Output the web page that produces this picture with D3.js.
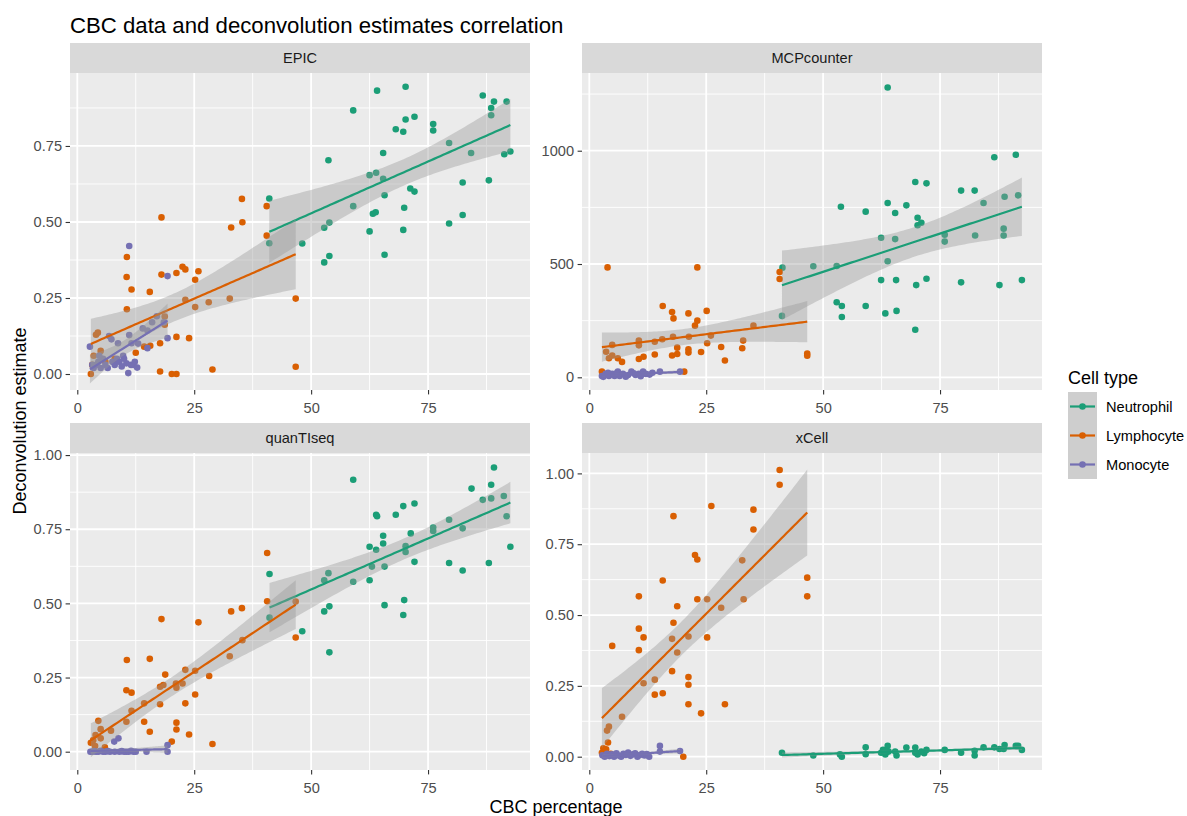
<!DOCTYPE html>
<html><head><meta charset="utf-8">
<script src="https://cdn.jsdelivr.net/npm/d3@7"></script>
<style>
html,body{margin:0;padding:0;background:#fff;}
text{font-family:"Liberation Sans",Arial,sans-serif;}
</style></head>
<body><svg id="chart" width="1187" height="816"></svg>
<script>
// ---------------- DATA ----------------
const methods = ["EPIC", "MCPcounter", "quanTIseq", "xCell"];
const cellTypes = ["Neutrophil", "Lymphocyte", "Monocyte"];
const xTicks = [0, 25, 50, 75];
const epicTicks = [0, 0.25, 0.5, 0.75];
const mcpTicks = [0, 500, 1000];
const quanTicks = [0, 0.25, 0.5, 0.75, 1];
const xcellTicks = [0, 0.25, 0.5, 0.75, 1];

const epicNeutrophil = [[41.05,0.577],[41.05,0.430],[48.1,0.429],[52.8,0.481],[53.9,0.498],[52.8,0.367],[53.9,0.388],[53.7,0.703],[59.0,0.867],[59.0,0.552],[62.5,0.654],[63.9,0.662],[62.5,0.469],[63.2,0.527],[63.8,0.532],[64.1,0.932],[65.4,0.727],[65.4,0.642],[65.7,0.588],[65.7,0.392],[68.1,0.805],[69.7,0.797],[69.7,0.474],[69.9,0.547],[70.2,0.945],[70.2,0.837],[71.2,0.610],[72.1,0.600],[72.1,0.846],[76.1,0.822],[76.1,0.801],[79.5,0.760],[79.5,0.495],[82.4,0.630],[82.4,0.523],[84.2,0.727],[86.7,0.916],[88.0,0.637],[88.5,0.875],[88.5,0.851],[89.1,0.896],[91.3,0.723],[91.8,0.896],[92.6,0.732]];
const epicLymphocyte = [[2.9,0.0],[3.2,0.03],[4.0,0.129],[4.4,0.136],[5.0,0.076],[3.5,0.06],[10.6,0.385],[10.55,0.319],[11.6,0.278],[10.6,0.213],[15.5,0.270],[18.0,0.515],[18.0,0.327],[21.2,0.332],[22.5,0.353],[23.1,0.344],[25.9,0.338],[25.2,0.310],[23.1,0.244],[25.2,0.220],[28.1,0.236],[32.6,0.248],[32.9,0.482],[35.2,0.576],[35.3,0.499],[40.5,0.552],[40.5,0.455],[46.7,0.248],[46.7,0.024],[18.7,0.189],[18.7,0.162],[21.2,0.122],[23.9,0.118],[17.7,0.101],[15.6,0.093],[14.3,0.09],[17.7,0.008],[20.2,0.0],[21.2,0.0],[28.9,0.015],[6.0,0.04],[8.0,0.05],[12.5,0.07]];
const epicMonocyte = [[2.7,0.09],[3.5,0.02],[4.0,0.03],[4.5,0.04],[5.0,0.02],[5.5,0.05],[6.0,0.03],[6.5,0.02],[6.8,0.125],[7.3,0.114],[7.5,0.04],[8.0,0.03],[8.5,0.05],[8.7,0.101],[9.0,0.04],[9.5,0.025],[10.0,0.05],[10.5,0.035],[10.9,0.003],[11.1,0.128],[11.1,0.421],[11.5,0.03],[11.6,0.101],[12.0,0.03],[12.3,0.04],[12.8,0.021],[13.0,0.10],[14.0,0.15],[15.0,0.143],[15.0,0.085],[16.0,0.17],[17.0,0.19],[18.5,0.17],[19.3,0.118],[19.3,0.322],[9.8,0.06],[4.7,0.06],[3.2,0.03]];

const mcpNeutrophil = [[41.3,484],[41.2,271],[47.9,490],[52.9,491],[52.9,331],[53.8,753],[54.0,315],[54.0,266],[59.1,731],[59.1,315],[62.4,616],[62.4,429],[63.3,282],[63.8,1279],[63.8,769],[63.8,512],[65.4,725],[65.4,610],[65.6,429],[65.7,293],[67.8,759],[69.7,862],[69.7,210],[69.9,407],[70.2,704],[70.2,671],[71.0,682],[72.1,856],[72.1,435],[76.0,629],[76.0,599],[79.5,824],[79.5,419],[82.4,824],[82.5,626],[84.3,769],[86.6,971],[87.7,407],[88.6,656],[88.6,626],[88.8,797],[91.2,982],[91.7,803],[92.5,429]];
const mcpLymphocyte = [[2.7,25],[3.6,113],[3.9,485],[4.2,84],[4.9,143],[4.9,96],[6.1,84],[7.0,68],[10.6,162],[10.6,141],[10.6,81],[11.6,91],[14.0,157],[14.0,101],[15.6,168],[15.7,315],[17.7,288],[17.7,96],[17.9,179],[18.0,260],[18.8,103],[18.8,131],[20.3,25],[21.2,282],[21.2,124],[21.2,109],[21.3,179],[22.6,228],[23.1,485],[23.1,250],[23.9,112],[25.1,293],[25.2,150],[26.0,184],[28.2,134],[29.0,74],[32.7,128],[32.9,162],[35.1,228],[40.7,465],[40.7,434],[46.6,105],[46.6,95]];
const mcpMonocyte = [[2.7,6],[3.5,15],[4.2,6],[4.9,15],[5.4,6],[6.1,25],[6.5,6],[7.2,15],[8.3,10],[9.0,25],[9.9,10],[10.6,15],[11.5,25],[12.1,15],[12.9,12],[15.1,25],[19.4,25],[3.0,2],[4.0,20],[5.8,18],[7.8,3],[9.5,18],[11.0,5],[13.5,20]];

const quanNeutrophil = [[41.1,0.599],[41.1,0.452],[48.1,0.406],[52.8,0.578],[53.7,0.602],[52.8,0.473],[53.9,0.490],[53.9,0.335],[59.0,0.917],[59.0,0.573],[62.5,0.691],[62.5,0.578],[63.0,0.624],[63.9,0.799],[64.1,0.794],[63.9,0.681],[65.4,0.728],[65.4,0.702],[65.7,0.624],[65.7,0.494],[68.1,0.799],[69.7,0.828],[69.7,0.461],[69.9,0.511],[70.2,0.693],[70.2,0.673],[71.3,0.736],[72.1,0.837],[72.1,0.640],[76.1,0.756],[76.1,0.744],[79.5,0.782],[79.5,0.636],[82.4,0.753],[82.4,0.611],[84.3,0.887],[86.7,0.849],[88.0,0.636],[88.5,0.900],[88.5,0.854],[89.1,0.958],[91.2,0.862],[91.8,0.794],[92.6,0.691]];
const quanLymphocyte = [[40.6,0.670],[40.6,0.507],[46.7,0.506],[46.7,0.385],[32.9,0.473],[35.2,0.484],[18.0,0.447],[25.9,0.436],[10.6,0.309],[15.5,0.313],[35.3,0.376],[32.6,0.322],[28.2,0.255],[25.2,0.273],[23.1,0.276],[18.8,0.260],[21.1,0.230],[22.5,0.230],[21.2,0.216],[17.7,0.219],[18.4,0.225],[10.5,0.207],[11.6,0.199],[17.7,0.160],[23.1,0.163],[25.2,0.193],[14.3,0.163],[11.6,0.138],[10.5,0.101],[14.3,0.101],[15.5,0.067],[21.2,0.098],[21.2,0.075],[23.9,0.058],[20.2,0.034],[28.9,0.026],[4.5,0.104],[5.0,0.076],[3.9,0.056],[5.0,0.045],[7.2,0.071],[2.9,0.030],[3.8,0.019],[5.9,0.015],[3.4,0.039]];
const quanMonocyte = [[2.8,0],[3.2,0],[3.6,0.002],[4.0,0],[4.5,0],[5.0,0.003],[5.5,0],[6.0,0],[6.5,0.002],[7.0,0],[7.9,0.034],[8.8,0.045],[8.0,0],[9.0,0],[9.5,0.002],[10.0,0],[10.5,0],[11.0,0],[11.5,0.003],[12.0,0],[12.5,0],[14.8,0],[19.3,0.022],[19.3,0]];

const xcellNeutrophil = [[41.2,0.014],[47.9,0.004],[53.6,0.008],[54.0,0.0],[59.1,0.033],[59.1,0.009],[62.4,0.014],[62.8,0.024],[63.3,0.008],[63.8,0.038],[64.0,0.018],[65.4,0.018],[65.7,0.004],[67.8,0.032],[69.7,0.032],[69.7,0.014],[70.2,0.008],[71.0,0.018],[71.6,0.012],[72.1,0.024],[76.0,0.024],[79.5,0.014],[82.4,0.021],[82.4,0.004],[84.3,0.033],[86.6,0.033],[87.7,0.027],[88.6,0.027],[88.8,0.041],[91.2,0.038],[91.7,0.038],[92.5,0.024]];
const xcellLymphocyte = [[40.7,1.012],[40.7,0.960],[26.1,0.885],[18.0,0.849],[35.1,0.872],[35.1,0.802],[22.6,0.712],[23.1,0.696],[32.7,0.693],[46.6,0.632],[46.6,0.566],[15.7,0.622],[10.6,0.566],[23.1,0.556],[25.2,0.556],[33.0,0.556],[28.2,0.526],[18.8,0.531],[18.0,0.473],[10.6,0.452],[11.6,0.421],[17.7,0.416],[21.2,0.424],[4.9,0.391],[10.6,0.376],[18.8,0.368],[25.2,0.421],[17.7,0.302],[21.2,0.281],[21.2,0.254],[11.6,0.259],[14.0,0.272],[14.0,0.219],[15.7,0.224],[21.2,0.185],[29.0,0.185],[23.9,0.153],[7.0,0.141],[4.2,0.106],[3.8,0.092],[2.7,0.014],[3.6,0.026],[3.0,0.03],[4.0,0.05],[4.6,0.01],[20.1,0.0]];
const xcellMonocyte = [[2.8,0.005],[3.3,0.0],[3.8,0.01],[4.3,0.002],[4.8,0.008],[5.3,0.0],[5.8,0.012],[6.3,0.004],[6.8,0.0],[7.3,0.01],[7.8,0.006],[8.3,0.015],[8.8,0.003],[9.3,0.008],[9.8,0.012],[10.3,0.0],[10.8,0.006],[11.3,0.01],[11.8,0.004],[12.3,0.009],[12.8,0.0],[15.1,0.038],[15.1,0.018],[19.4,0.02]];

// ---------------- LAYOUT ----------------
const colors = {Neutrophil:"#1B9E77", Lymphocyte:"#D95F02", Monocyte:"#7570B3"};
const xDomain = [-1.56, 96.8];
const panels = [
  {name:"EPIC", left:70, right:530, top:73, bottom:390, yDom:[-0.0526,0.990], ticks:epicTicks, fmt:d3.format(".2f"),
    sets:{Neutrophil:epicNeutrophil, Lymphocyte:epicLymphocyte, Monocyte:epicMonocyte}},
  {name:"MCPcounter", left:582, right:1042, top:73, bottom:390, yDom:[-56,1343], ticks:mcpTicks, fmt:d3.format("d"),
    sets:{Neutrophil:mcpNeutrophil, Lymphocyte:mcpLymphocyte, Monocyte:mcpMonocyte}},
  {name:"quanTIseq", left:70, right:530, top:453, bottom:770, yDom:[-0.0617,1.007], ticks:quanTicks, fmt:d3.format(".2f"),
    sets:{Neutrophil:quanNeutrophil, Lymphocyte:quanLymphocyte, Monocyte:quanMonocyte}},
  {name:"xCell", left:582, right:1042, top:453, bottom:770, yDom:[-0.047,1.072], ticks:xcellTicks, fmt:d3.format(".2f"),
    sets:{Neutrophil:xcellNeutrophil, Lymphocyte:xcellLymphocyte, Monocyte:xcellMonocyte}}
];

const svg = d3.select("#chart");
svg.append("rect").attr("width",1187).attr("height",816).attr("fill","#fff");

const tickFont = 14.6;

function tq(df){ // t quantile 0.975
  const z = 1.959964;
  return z + (z*z*z + z)/(4*df) + (5*Math.pow(z,5) + 16*z*z*z + 3*z)/(96*df*df)
    + (3*Math.pow(z,7)+19*Math.pow(z,5)+17*z*z*z-15*z)/(384*df*df*df);
}
function lmFit(pts){
  const n = pts.length;
  const xm = d3.mean(pts,d=>d[0]), ym = d3.mean(pts,d=>d[1]);
  let sxx=0, sxy=0;
  pts.forEach(d=>{ sxx += (d[0]-xm)**2; sxy += (d[0]-xm)*(d[1]-ym); });
  const b = sxy/sxx, a = ym - b*xm;
  let sse=0; pts.forEach(d=>{ sse += (d[1]-a-b*d[0])**2; });
  const s = Math.sqrt(sse/(n-2));
  const t = tq(n-2);
  const [x0,x1] = d3.extent(pts,d=>d[0]);
  const out=[];
  for(let i=0;i<80;i++){
    const x = x0 + (x1-x0)*i/79;
    const f = a + b*x;
    const se = s*Math.sqrt(1/n + (x-xm)**2/sxx);
    out.push({x, y:f, lo:f-t*se, hi:f+t*se});
  }
  return out;
}

panels.forEach((p,pi)=>{
  const x = d3.scaleLinear().domain(xDomain).range([p.left,p.right]);
  const y = d3.scaleLinear().domain(p.yDom).range([p.bottom,p.top]);
  const g = svg.append("g");
  // strip
  g.append("rect").attr("x",p.left).attr("y",p.top-30).attr("width",p.right-p.left).attr("height",30).attr("fill","#D9D9D9");
  g.append("text").attr("x",(p.left+p.right)/2).attr("y",p.top-15).attr("dy","0.35em")
    .attr("text-anchor","middle").attr("fill","#1A1A1A").style("font-size",tickFont+"px").text(p.name);
  // panel bg
  g.append("rect").attr("x",p.left).attr("y",p.top).attr("width",p.right-p.left).attr("height",p.bottom-p.top).attr("fill","#EBEBEB");
  // grid minor
  const xMinor = xTicks.map((t,i)=>t+12.5);
  xMinor.forEach(v=>{ if(v>xDomain[0]&&v<xDomain[1]) g.append("line").attr("x1",x(v)).attr("x2",x(v)).attr("y1",p.top).attr("y2",p.bottom).attr("stroke","#fff").attr("stroke-width",0.9); });
  const step = p.ticks[1]-p.ticks[0];
  const yMinor = d3.range(p.ticks[0]-step/2, p.yDom[1], step).concat([]);
  yMinor.forEach(v=>{ if(v>p.yDom[0]&&v<p.yDom[1]) g.append("line").attr("y1",y(v)).attr("y2",y(v)).attr("x1",p.left).attr("x2",p.right).attr("stroke","#fff").attr("stroke-width",0.9); });
  xTicks.forEach(v=>g.append("line").attr("x1",x(v)).attr("x2",x(v)).attr("y1",p.top).attr("y2",p.bottom).attr("stroke","#fff").attr("stroke-width",1.8));
  p.ticks.forEach(v=>g.append("line").attr("y1",y(v)).attr("y2",y(v)).attr("x1",p.left).attr("x2",p.right).attr("stroke","#fff").attr("stroke-width",1.8));

  // clip
  const cid = "clip"+pi;
  svg.append("clipPath").attr("id",cid).append("rect").attr("x",p.left).attr("y",p.top).attr("width",p.right-p.left).attr("height",p.bottom-p.top);
  const pg = g.append("g").attr("clip-path",`url(#${cid})`);
  // points
  cellTypes.forEach(ct=>{
    pg.selectAll(null).data(p.sets[ct]).enter().append("circle")
      .attr("cx",d=>x(d[0])).attr("cy",d=>y(d[1])).attr("r",3.3).attr("fill",colors[ct]);
  });
  // smooths
  cellTypes.forEach(ct=>{
    const fit = lmFit(p.sets[ct]);
    pg.append("path").datum(fit).attr("fill","#999999").attr("fill-opacity",0.4)
      .attr("d", d3.area().x(d=>x(d.x)).y0(d=>y(d.lo)).y1(d=>y(d.hi)));
    pg.append("path").datum(fit).attr("fill","none").attr("stroke",colors[ct]).attr("stroke-width",2.2)
      .attr("d", d3.line().x(d=>x(d.x)).y(d=>y(d.y)));
  });
  // axes
  const xa = g.append("g").attr("transform",`translate(0,${p.bottom})`)
    .call(d3.axisBottom(x).tickValues(xTicks).tickSize(4.4).tickPadding(8).tickFormat(d3.format("d")));
  const ya = g.append("g").attr("transform",`translate(${p.left},0)`)
    .call(d3.axisLeft(y).tickValues(p.ticks).tickSize(4.4).tickPadding(3.6).tickFormat(p.fmt));
  [xa,ya].forEach(a=>{
    a.select(".domain").remove();
    a.selectAll(".tick line").attr("stroke","#333333").attr("stroke-width",1.1);
    a.selectAll(".tick text").attr("fill","#4D4D4D").style("font-size",tickFont+"px").style("font-family",'"Liberation Sans",Arial,sans-serif');
  });
});

// titles
svg.append("text").attr("x",70).attr("y",33).style("font-size","22.2px").attr("fill","#000")
  .text("CBC data and deconvolution estimates correlation");
svg.append("text").attr("x",556).attr("y",813).attr("text-anchor","middle").style("font-size","18px").attr("fill","#000")
  .text("CBC percentage");
svg.append("text").attr("transform","translate(25.5,421) rotate(-90)").attr("text-anchor","middle").style("font-size","18px").attr("fill","#000")
  .text("Deconvolution estimate");

// legend
const lg = svg.append("g");
lg.append("text").attr("x",1068).attr("y",384).style("font-size","18px").attr("fill","#000").text("Cell type");
cellTypes.forEach((ct,i)=>{
  const top = 392 + i*29;
  lg.append("rect").attr("x",1068).attr("y",top).attr("width",29).attr("height",29).attr("fill","#F2F2F2");
  lg.append("rect").attr("x",1068).attr("y",top).attr("width",29).attr("height",29).attr("fill","#999999").attr("fill-opacity",0.4);
  lg.append("line").attr("x1",1070).attr("x2",1095).attr("y1",top+14.5).attr("y2",top+14.5).attr("stroke",colors[ct]).attr("stroke-width",2.2);
  lg.append("circle").attr("cx",1082.5).attr("cy",top+14.5).attr("r",3.3).attr("fill",colors[ct]);
  lg.append("text").attr("x",1106).attr("y",top+14.5).attr("dy","0.35em").style("font-size",tickFont+"px").attr("fill","#000").text(ct);
});
</script></body></html>
